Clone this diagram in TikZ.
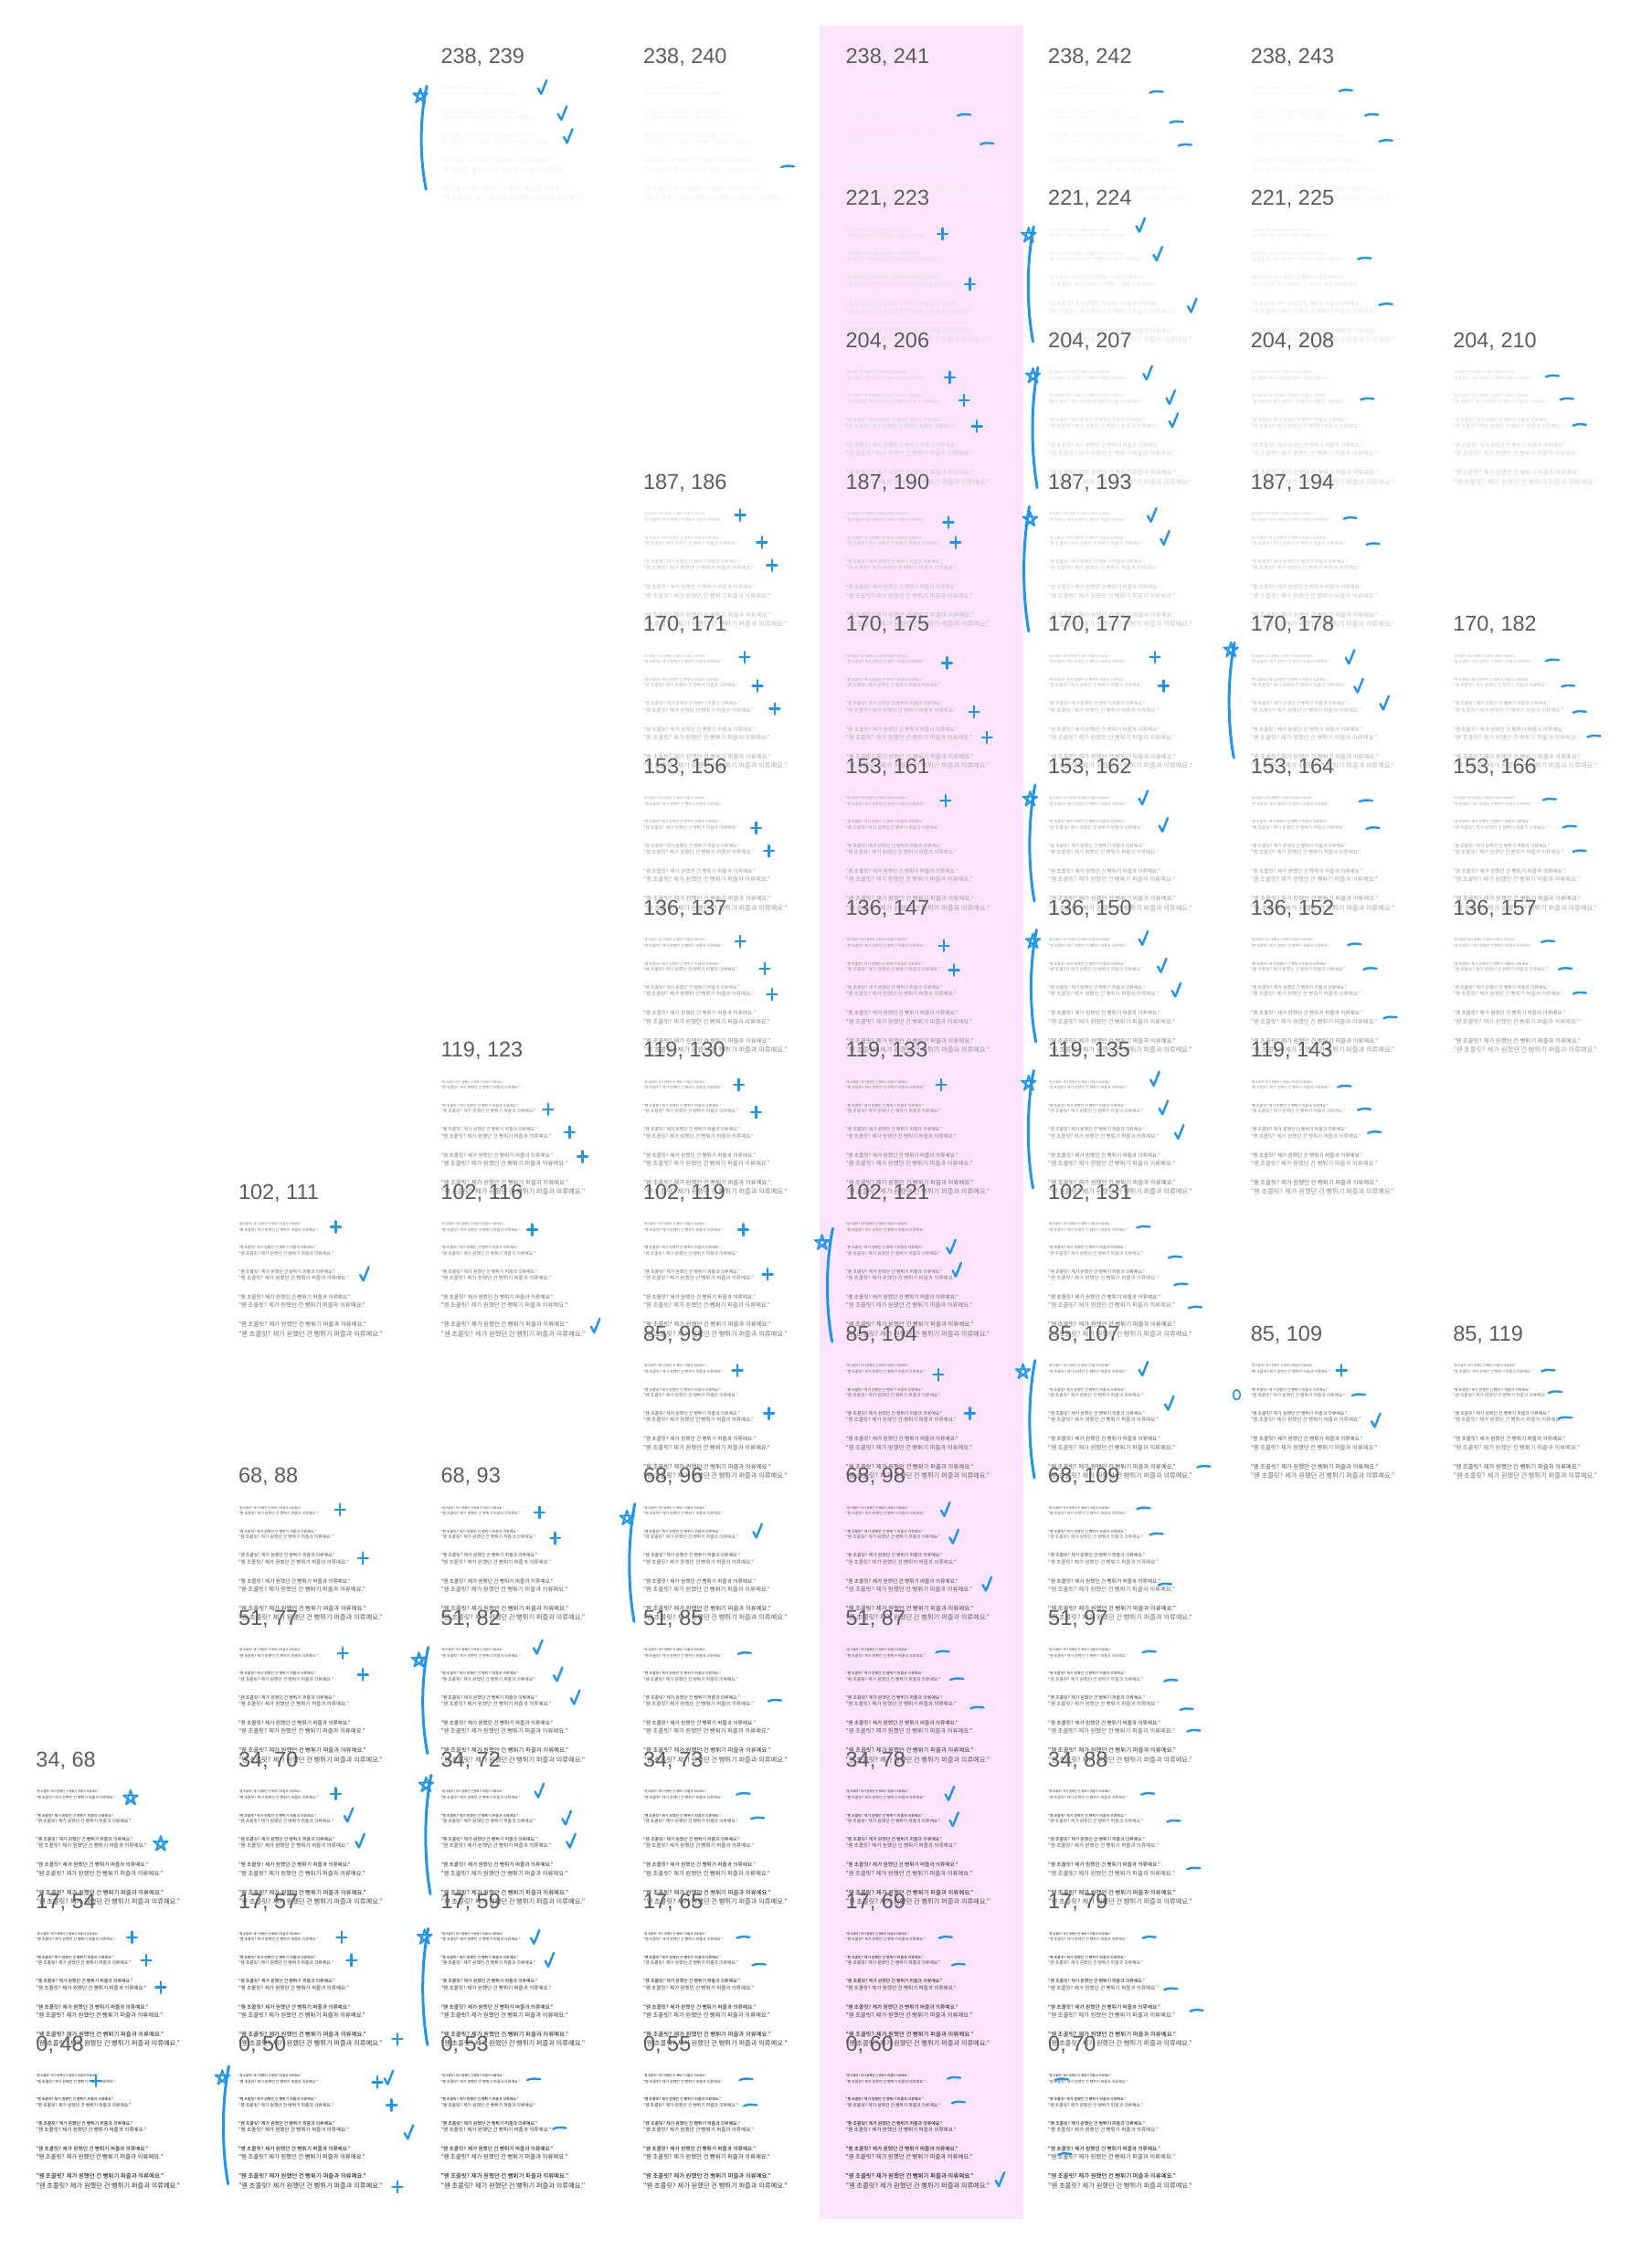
\documentclass[tikz,border=0pt]{standalone}
\usepackage{fontspec}
\setmainfont{Liberation Sans}
\newfontfamily\krfont{Noto Sans CJK KR}
\definecolor{pinkbg}{RGB}{252,228,252}
\definecolor{inkblue}{RGB}{28,150,242}
\definecolor{lblgray}{RGB}{92,92,92}
\newcommand\Sent{"웬 초콜릿? 제가 원했던 건 뻥튀기 퍼즐과 의류예요."}
\tikzset{
  mk/.style={draw=inkblue,line width=2.4pt,line cap=round,line join=round},
  lbl/.style={anchor=west,inner sep=0pt,text=lblgray,font=\fontsize{23.5}{23.5}\selectfont},
  ln/.style={anchor=west,inner sep=0pt,font=\krfont},
}
\newcommand\mkC[2]{\draw[mk] ({#1-3},{#2+0.5}) -- ({#1-0.8},{#2+4.5}) -- ({#1+3},{#2-5});}
\newcommand\mkP[2]{\draw[mk] ({#1-3.5},{#2}) -- ({#1+3.5},{#2}) ({#1},{#2-4}) -- ({#1},{#2+4});}
\newcommand\mkD[2]{\draw[mk] ({#1-4.5},{#2+0.6}) .. controls ({#1-1},{#2-0.6}) .. ({#1+4.5},{#2});}
\newcommand\mkS[2]{\draw[mk,line width=1.8pt] ({#1},{#2-5.5}) -- ({#1+3.2},{#2+4.5}) -- ({#1-5},{#2-1.8}) -- ({#1+5},{#2-1.8}) -- ({#1-3.2},{#2+4.5}) -- cycle;}
\newcommand\mkB[3]{\draw[mk,line width=3pt] ({#1+1.5},{#2}) .. controls ({#1-3.5},{#2+0.3*(#3-#2)}) and ({#1-3.5},{#3-0.3*(#3-#2)}) .. ({#1+1},{#3});}
\begin{document}
\begin{tikzpicture}[x=1.5708pt,y=-1.5708pt]
\useasboundingbox (0,0) rectangle (1151,1568);
\fill[pinkbg] (571,18) rectangle (713,1546.5);
\foreach \rr/\cc/\va/\vb in {
 0/2/238/239, 0/3/238/240, 0/4/238/241, 0/5/238/242, 0/6/238/243,
 1/4/221/223, 1/5/221/224, 1/6/221/225,
 2/4/204/206, 2/5/204/207, 2/6/204/208, 2/7/204/210,
 3/3/187/186, 3/4/187/190, 3/5/187/193, 3/6/187/194,
 4/3/170/171, 4/4/170/175, 4/5/170/177, 4/6/170/178, 4/7/170/182,
 5/3/153/156, 5/4/153/161, 5/5/153/162, 5/6/153/164, 5/7/153/166,
 6/3/136/137, 6/4/136/147, 6/5/136/150, 6/6/136/152, 6/7/136/157,
 7/2/119/123, 7/3/119/130, 7/4/119/133, 7/5/119/135, 7/6/119/143,
 8/1/102/111, 8/2/102/116, 8/3/102/119, 8/4/102/121, 8/5/102/131,
 9/3/85/99, 9/4/85/104, 9/5/85/107, 9/6/85/109, 9/7/85/119,
 10/1/68/88, 10/2/68/93, 10/3/68/96, 10/4/68/98, 10/5/68/109,
 11/1/51/77, 11/2/51/82, 11/3/51/85, 11/4/51/87, 11/5/51/97,
 12/0/34/68, 12/1/34/70, 12/2/34/72, 12/3/34/73, 12/4/34/78, 12/5/34/88,
 13/0/17/54, 13/1/17/57, 13/2/17/59, 13/3/17/65, 13/4/17/69, 13/5/17/79,
 14/0/0/48, 14/1/0/50, 14/2/0/53, 14/3/0/55, 14/4/0/60, 14/5/0/70}{
  \pgfmathsetmacro\cx{25+141.1*\cc}
  \pgfmathsetmacro\cy{40+98.93*\rr}
  \foreach \kk/\oa/\ob/\fa/\fb in {1/21.6/25.5/3.19/4.02, 2/38.2/42.0/3.93/4.80, 3/54.7/59.2/4.89/5.59, 4/72.6/78.3/5.68/6.42, 5/91.7/98.0/6.46/7.29}{
    \node[ln] (T-\rr-\cc-\kk-a) at (\cx,\cy+\oa) {\fontsize{\fa}{\fa}\selectfont\color[RGB]{\va,\va,\va}\Sent};
    \node[ln] (T-\rr-\cc-\kk-b) at (\cx,\cy+\ob) {\fontsize{\fb}{\fb}\selectfont\color[RGB]{\vb,\vb,\vb}\Sent};
  }
  \node[lbl] (L-\rr-\cc) at (\cx,\cy) {\va, \vb};
}
% row 238
\mkB{296}{60}{132} \mkS{293}{67}
\mkC{378}{61} \mkC{392}{79} \mkC{396}{95}
\mkD{549}{116}
\mkD{672}{80} \mkD{688}{100}
\mkD{806}{64} \mkD{820}{85} \mkD{826}{101}
\mkD{938}{63} \mkD{956}{80} \mkD{966}{98}
% row 221
\mkP{657}{163} \mkP{676}{198}
\mkB{719}{158}{238} \mkS{717}{164}
\mkC{795}{157} \mkC{807}{177} \mkC{831}{213}
\mkD{951}{180} \mkD{966}{212}
% row 204
\mkP{662}{263} \mkP{672}{279} \mkP{681}{297}
\mkB{722}{256}{340} \mkS{720}{262}
\mkC{800}{260} \mkC{816}{277} \mkC{818}{293}
\mkD{953}{278}
\mkD{1082}{262} \mkD{1092}{278} \mkD{1101}{296}
% row 187
\mkP{516}{359} \mkP{531}{378} \mkP{538}{394}
\mkP{661}{364} \mkP{666}{378}
\mkB{716}{353}{440} \mkS{718}{362}
\mkC{803}{359} \mkC{812}{375}
\mkD{941}{361} \mkD{957}{379}
% row 170
\mkP{519}{458} \mkP{528}{478} \mkP{540}{494}
\mkP{660}{462} \mkP{679}{496} \mkP{688}{514}
\mkP{805}{458} \mkP{811}{478}
\mkB{859}{448}{528} \mkS{858}{453}
\mkC{941}{458} \mkC{947}{478} \mkC{965}{490}
\mkD{1082}{460} \mkD{1093}{478} \mkD{1101}{496} \mkD{1111}{513}
% row 153
\mkP{527}{577} \mkP{536}{593}
\mkP{659}{558}
\mkB{720}{547}{628} \mkS{718}{557}
\mkC{797}{556} \mkC{811}{575}
\mkD{952}{558} \mkD{957}{577}
\mkD{1080}{557} \mkD{1094}{576} \mkD{1101}{593}
% row 136
\mkP{516}{656} \mkP{533}{675} \mkP{538}{693}
\mkP{658}{659} \mkP{665}{676}
\mkB{721}{648}{726} \mkS{720}{656}
\mkC{797}{654} \mkC{810}{673} \mkC{820}{690}
\mkD{944}{658} \mkD{955}{675} \mkD{969}{709}
\mkD{1079}{656} \mkD{1091}{675} \mkD{1101}{692}
% row 119
\mkP{382}{773} \mkP{397}{789} \mkP{406}{806}
\mkP{515}{756} \mkP{527}{775}
\mkP{656}{756}
\mkB{719}{746}{828} \mkS{717}{755}
\mkC{805}{752} \mkC{811}{772} \mkC{822}{789}
\mkD{937}{757} \mkD{951}{773} \mkD{958}{789}
% row 102
\mkP{234}{855} \mkC{254}{888}
\mkP{371}{857} \mkC{415}{924}
\mkP{518}{857} \mkP{535}{888}
\mkB{579}{856}{935} \mkS{573}{866}
\mkC{663}{869} \mkC{667}{885}
\mkD{797}{855} \mkD{819}{876} \mkD{823}{895} \mkD{833}{911}
% row 85
\mkP{514}{955} \mkP{536}{985}
\mkP{654}{958} \mkP{676}{985}
\mkB{720}{948}{1030} \mkS{713}{956}
\mkC{797}{954} \mkC{815}{978} \mkD{839}{1022}
\draw[mk,line width=1.6pt] (862,972) ellipse (2.5 and 3.5);
\mkP{935}{955} \mkD{947}{972} \mkC{959}{990}
\mkD{1079}{955} \mkD{1084}{970} \mkD{1091}{988}
% row 68
\mkP{237}{1052} \mkP{253}{1086}
\mkP{376}{1054} \mkP{387}{1072}
\mkB{441}{1048}{1130} \mkS{437}{1058}
\mkC{528}{1067}
\mkC{659}{1052} \mkC{665}{1071} \mkC{688}{1104}
\mkD{797}{1051} \mkD{806}{1069} \mkD{812}{1104}
% row 51
\mkP{239}{1152} \mkP{253}{1167}
\mkB{297}{1148}{1222} \mkS{292}{1157}
\mkC{375}{1148} \mkC{389}{1167} \mkC{401}{1183}
\mkD{519}{1152} \mkD{540}{1185}
\mkD{657}{1151} \mkD{667}{1170} \mkD{681}{1190}
\mkD{801}{1151} \mkD{816}{1171} \mkD{827}{1191} \mkD{832}{1206}
% row 34
\mkS{91}{1253} \mkS{112}{1285}
\mkP{234}{1250} \mkC{243}{1265} \mkC{251}{1283}
\mkB{299}{1237}{1320} \mkS{297}{1244}
\mkC{376}{1248} \mkC{395}{1267} \mkC{398}{1283}
\mkD{518}{1250} \mkD{528}{1267}
\mkC{662}{1250} \mkC{665}{1268}
\mkD{800}{1250} \mkD{818}{1269} \mkD{832}{1302}
% row 17
\mkP{92}{1350} \mkP{102}{1366} \mkP{112}{1385}
\mkP{238}{1350} \mkP{245}{1366} \mkP{277}{1421}
\mkB{297}{1344}{1425} \mkS{296}{1350}
\mkC{373}{1350} \mkC{383}{1366}
\mkD{518}{1350} \mkD{529}{1369}
\mkD{659}{1350} \mkD{668}{1369}
\mkD{801}{1350} \mkD{816}{1386} \mkD{834}{1401}
% row 0
\mkP{67}{1450}
\mkB{158}{1440}{1522} \mkS{155}{1448}
\mkP{263}{1451} \mkC{271}{1448} \mkP{273}{1467} \mkC{285}{1486} \mkP{277}{1524}
\mkD{372}{1449} \mkD{390}{1483}
\mkD{520}{1449} \mkD{523}{1467}
\mkD{665}{1448} \mkD{668}{1465} \mkC{697}{1519}
\mkD{740}{1449} \mkD{742}{1501}
\end{tikzpicture}
\end{document}
